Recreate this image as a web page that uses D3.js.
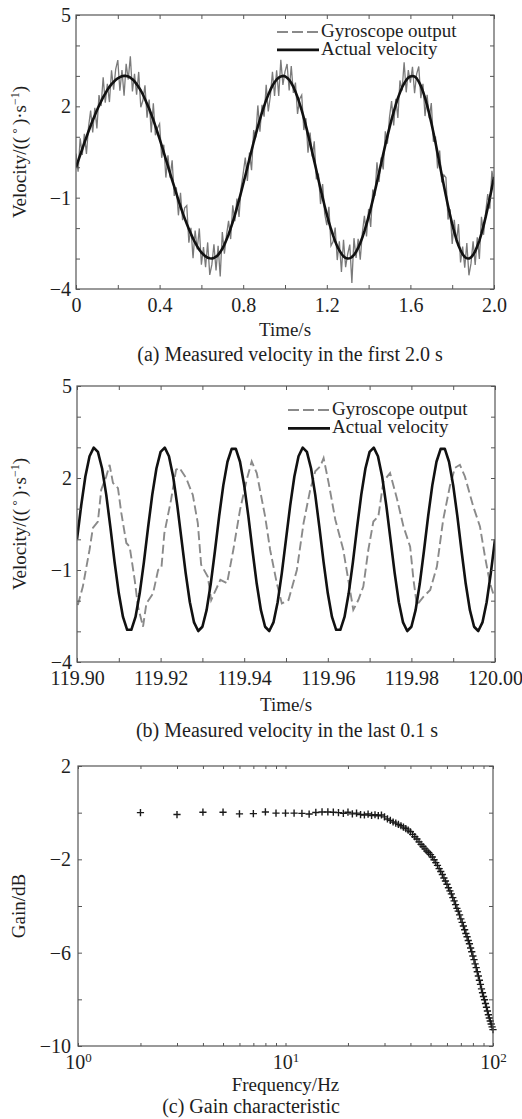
<!DOCTYPE html>
<html><head><meta charset="utf-8">
<script src="https://cdn.jsdelivr.net/npm/d3@7"></script>
<style>
body{margin:0;background:#fff}
svg{display:block}
text{font-family:"Liberation Serif","Times New Roman",serif;fill:#1e1e1e}
</style>
</head><body>
<svg id="chart" width="522" height="1119"></svg>
<script>
// ---------- DATA ----------
// Panel (a): first 2.0 s, sampled every 0.01 s
const sampleStepA = 0.01;
const actualA = [
 0.00,0.20,0.40,0.60,0.80,0.99,1.18,1.36,1.54,1.70,
 1.87,2.02,2.16,2.30,2.42,2.54,2.64,2.73,2.80,2.87,
 2.92,2.96,2.99,3.00,3.00,2.98,2.94,2.89,2.82,2.73,
 2.63,2.52,2.39,2.24,2.08,1.92,1.74,1.55,1.35,1.14,
 0.93,0.71,0.49,0.26,0.04,-0.19,-0.42,-0.64,-0.86,-1.08,
 -1.29,-1.49,-1.68,-1.86,-2.03,-2.19,-2.34,-2.48,-2.60,-2.71,
 -2.80,-2.87,-2.93,-2.97,-2.99,-3.00,-2.98,-2.94,-2.88,-2.79,
 -2.68,-2.54,-2.38,-2.21,-2.01,-1.80,-1.57,-1.33,-1.08,-0.82,
 -0.55,-0.28,0.00,0.28,0.55,0.82,1.08,1.33,1.57,1.80,
 2.01,2.21,2.38,2.54,2.68,2.79,2.88,2.94,2.98,3.00,
 2.99,2.94,2.87,2.77,2.64,2.48,2.30,2.09,1.87,1.62,
 1.36,1.08,0.79,0.50,0.20,-0.10,-0.41,-0.71,-1.00,-1.28,
 -1.55,-1.80,-2.03,-2.24,-2.43,-2.60,-2.73,-2.84,-2.93,-2.98,
 -3.00,-2.99,-2.95,-2.88,-2.78,-2.65,-2.49,-2.31,-2.10,-1.87,
 -1.62,-1.36,-1.08,-0.79,-0.49,-0.18,0.12,0.43,0.73,1.02,
 1.30,1.57,1.82,2.05,2.27,2.45,2.62,2.75,2.86,2.94,
 2.98,3.00,2.98,2.92,2.81,2.67,2.49,2.28,2.03,1.76,
 1.46,1.14,0.81,0.46,0.10,-0.25,-0.60,-0.94,-1.27,-1.58,
 -1.87,-2.13,-2.37,-2.57,-2.73,-2.86,-2.95,-2.99,-3.00,-2.96,
 -2.88,-2.76,-2.60,-2.41,-2.18,-1.92,-1.64,-1.33,-1.01,-0.67,
 -0.32];
const gyroA = [
 0.45,-0.15,0.95,0.40,1.10,0.44,1.33,1.86,1.14,1.95,
 1.27,2.37,2.01,2.95,2.12,2.74,2.14,3.18,2.55,3.22,
 3.52,2.51,3.19,2.35,3.40,2.88,3.64,2.49,3.07,2.38,
 3.13,1.97,2.19,2.69,1.63,2.22,1.14,2.10,1.05,1.29,
 1.43,0.31,0.74,-0.34,0.39,-0.34,0.23,-0.94,-0.66,-1.58,
 -0.84,-1.74,-1.33,-1.26,-2.48,-1.99,-2.99,-2.08,-2.70,-2.01,
 -3.20,-2.62,-3.28,-2.47,-3.54,-3.20,-2.53,-3.39,-2.58,-3.59,
 -2.13,-2.84,-2.23,-1.76,-2.36,-1.25,-1.77,-1.03,-1.63,-0.67,
 -0.20,0.32,-0.45,0.48,-0.10,1.22,0.98,2.03,1.17,2.05,
 1.66,2.71,1.83,2.34,3.13,2.34,3.18,2.34,3.53,2.70,
 3.14,3.39,2.52,3.32,2.44,2.78,1.75,2.24,2.37,1.22,
 1.61,0.48,1.14,0.35,0.85,-0.40,-0.21,-1.21,-0.55,-1.53,
 -1.90,-1.30,-2.58,-2.44,-1.98,-3.05,-2.43,-3.44,-2.38,-3.28,
 -2.85,-2.54,-3.80,-2.33,-2.98,-2.35,-3.04,-2.16,-1.60,-2.27,
 -1.37,-1.96,-0.73,-0.94,0.16,-0.48,0.32,-0.07,1.18,0.77,
 1.65,2.17,1.37,2.25,1.62,2.85,2.52,3.45,2.46,3.19,
 2.78,3.30,2.43,3.07,3.31,2.27,2.74,1.68,2.38,1.61,
 2.11,0.84,1.01,-0.04,0.55,-0.50,-0.25,-0.34,-1.72,-1.38,
 -2.52,-1.73,-2.47,-1.87,-3.13,-2.61,-3.30,-2.49,-3.55,-3.16,
 -2.43,-3.21,-2.30,-3.01,-1.63,-2.22,-1.49,-0.88,-1.36,-0.12,
 -0.52];

// Panel (b): last 0.1 s, actual sampled every 1 ms from 119.90 s
const startB = 119.90;
const sampleStepB = 0.001;
const actualB = [
 0.00,1.10,2.05,2.71,2.99,2.85,2.31,1.45,0.38,-0.75,-1.76,-2.53,-2.95,-2.95,-2.53,-1.76,-0.75,
 0.38,1.45,2.31,2.85,2.99,2.71,2.05,1.10,0.00,-1.10,-2.05,-2.71,-2.99,-2.85,-2.31,-1.45,-0.38,
 0.75,1.76,2.53,2.95,2.95,2.53,1.76,0.75,-0.38,-1.45,-2.31,-2.85,-2.99,-2.71,-2.05,-1.10,0.00,
 1.10,2.05,2.71,2.99,2.85,2.31,1.45,0.38,-0.75,-1.76,-2.53,-2.95,-2.95,-2.53,-1.76,-0.75,
 0.38,1.45,2.31,2.85,2.99,2.71,2.05,1.10,0.00,-1.10,-2.05,-2.71,-2.99,-2.85,-2.31,-1.45,-0.38,
 0.75,1.76,2.53,2.95,2.95,2.53,1.76,0.75,-0.38,-1.45,-2.31,-2.85,-2.99,-2.71,-2.05,-1.10,0.00];
// gyroscope output traced points: time offset (ms after 119.90 s) and value
const gyroBms = [0.2,1.4,3.0,3.8,5.0,5.8,7.0,7.8,8.6,9.8,10.6,11.8,12.6,13.8,14.6,15.8,16.6,18.2,19.4,20.2,
 20.9,22.5,23.7,24.5,26.1,27.7,28.9,29.7,31.3,32.1,34.3,35.9,37.4,39.0,40.6,41.8,43.0,45.0,46.2,47.8,
 49.0,50.6,52.6,54.2,55.8,57.0,58.2,59.0,60.2,61.8,63.7,64.9,66.1,67.3,68.5,69.7,70.9,72.1,73.3,74.9,
 76.5,78.1,79.7,80.5,81.3,82.9,84.5,86.1,87.6,89.2,90.4,91.6,92.8,94.8,96.4,97.6,98.8,99.8];
const gyroBValues = [-2.14,-1.54,-0.34,0.37,0.58,1.62,2.05,2.43,1.84,1.67,0.86,-0.12,-0.24,-1.32,-2.20,-2.85,-2.09,-1.76,-1.00,-0.93,
 0.20,1.29,2.27,2.33,2.00,1.45,0.53,-0.83,-1.22,-1.98,-1.32,-1.43,-0.34,0.96,1.94,2.54,2.16,0.75,-0.34,-1.43,
 -2.09,-1.98,-1.00,0.53,1.62,2.22,2.38,2.65,1.84,0.64,-0.34,-1.32,-2.30,-1.98,-1.54,-0.34,0.58,0.75,1.89,2.16,
 1.35,0.42,-0.24,-1.32,-2.14,-1.87,-1.65,-0.89,0.64,1.73,2.33,2.43,2.05,1.07,0.42,-0.56,-1.43,-1.87];

// Panel (c): gain characteristic
const freqC = [2,3,4,5,6,7,8,9,10,11,12,13,14,15,16,17,18,19,20,21,22,23,24,25,26,27,28,29,30,
 31,32,33,34,35,36,37,38,39,40,41,42,43,44,45,46,47,48,49,50,51,52,53,54,55,56,57,58,59,60,
 61,62,63,64,65,66,67,68,69,70,71,72,73,74,75,76,77,78,79,80,81,82,83,84,85,86,87,88,89,90,
 91,92,93,94,95,96,97,98,99,100];
const gainC = [0.00,-0.08,0.02,0.02,-0.05,-0.04,0.03,-0.02,-0.02,
 -0.02,-0.03,-0.06,0.01,0.03,0.03,0.02,0.00,-0.03,0.02,
 -0.05,-0.02,-0.08,-0.10,-0.06,-0.12,-0.09,-0.13,-0.10,-0.18,
 -0.27,-0.33,-0.40,-0.45,-0.50,-0.56,-0.62,-0.68,-0.75,-0.82,
 -0.93,-1.03,-1.13,-1.25,-1.36,-1.45,-1.55,-1.64,-1.72,-1.80,
 -1.90,-2.02,-2.14,-2.26,-2.40,-2.52,-2.65,-2.80,-2.93,-3.07,
 -3.22,-3.35,-3.48,-3.64,-3.78,-3.94,-4.10,-4.22,-4.38,-4.55,
 -4.70,-4.86,-5.02,-5.18,-5.32,-5.48,-5.62,-5.80,-5.96,-6.14,
 -6.30,-6.48,-6.64,-6.82,-7.00,-7.18,-7.36,-7.55,-7.72,-7.88,
 -8.02,-8.18,-8.34,-8.50,-8.66,-8.80,-8.93,-9.06,-9.18,-9.30];

// Ticks and labels
const xTicksA = [0,0.2,0.4,0.6,0.8,1.0,1.2,1.4,1.6,1.8,2.0];
const xLabelsA = ["0","","0.4","","0.8","","1.2","","1.6","","2.0"];
const yTicksAB = [5,4,3,2,1,0,-1,-2,-3,-4];
const yLabelsAB = ["5","","","2","","","\u22121","","","\u22124"];
const xTicksB = [119.90,119.91,119.92,119.93,119.94,119.95,119.96,119.97,119.98,119.99,120.00];
const xLabelsB = ["119.90","","119.92","","119.94","","119.96","","119.98","","120.00"];
const xTicksC = [1,2,3,4,5,6,7,8,9,10,20,30,40,50,60,70,80,90,100];
const xLabelsC = ["0","","","","","","","","","1","","","","","","","","","2"];
const yTicksC = [2,0,-2,-4,-6,-8,-10];
const yLabelsC = ["2","","\u22122","","\u22126","","\u221210"];
const legendNames = ["Gyroscope output","Actual velocity"];
const captions = ["(a) Measured velocity in the first 2.0 s","(b) Measured velocity in the last 0.1 s","(c) Gain characteristic"];

// ---------- DRAWING ----------
const svg = d3.select("#chart");
const FONT = 19, TICKFONT = 20, CAPFONT = 20;
const AX = "#555";

function setupAxes(g, x, y, box, cfg) {
  const {L,R,T,B} = box;
  const tk = 4;
  const style = sel => {
    sel.select(".domain").remove();
    sel.selectAll(".tick line").attr("stroke", AX).attr("stroke-width", 1);
    sel.attr("font-family", null).attr("font-size", TICKFONT);
    sel.selectAll("text").attr("fill", "#1e1e1e");
  };
  g.append("g").attr("transform", `translate(0,${B})`)
    .call(d3.axisBottom(x).tickValues(cfg.xTicks).tickSize(-(cfg.xTickLen||tk)).tickPadding(cfg.xPad)
      .tickFormat((d,i)=>cfg.xLabels[i])).call(style).call(cfg.xPost || (()=>{}));
  g.append("g").attr("transform", `translate(0,${T})`)
    .call(d3.axisTop(x).tickValues(cfg.xTicks).tickSize(-(cfg.xTickLen||tk)).tickFormat(()=>"")).call(style);
  g.append("g").attr("transform", `translate(${L},0)`)
    .call(d3.axisLeft(y).tickValues(cfg.yTicks).tickSize(-tk).tickPadding(cfg.yPad)
      .tickFormat((d,i)=>cfg.yLabels[i])).call(style);
  g.append("g").attr("transform", `translate(${R},0)`)
    .call(d3.axisRight(y).tickValues(cfg.yTicks).tickSize(-tk).tickFormat(()=>"")).call(style);
  g.append("rect").attr("x", L).attr("y", T).attr("width", R-L).attr("height", B-T)
    .attr("fill","none").attr("stroke", AX).attr("stroke-width", 1.2);
}

function velocityLabel(g, cx, cy) {
  const t = g.append("text").attr("transform", `translate(${cx},${cy}) rotate(-90)`)
    .attr("text-anchor","middle").attr("dy","0.33em").attr("font-size", FONT);
  t.append("tspan").text("Velocity/((");
  t.append("tspan").attr("font-size", 13).attr("dy", -5).text(" \u00B0 ");
  t.append("tspan").attr("dy", 5).text(")\u00B7s");
  t.append("tspan").attr("font-size", 12).attr("dy", -7).text("\u22121");
  t.append("tspan").attr("dy", 7).text(")");
}

function legend(g, x0, y0, gap) {
  const rows = [{dash:"11,4", w:1.9, c:"#8a8a8a"}, {dash:null, w:2.7, c:"#111"}];
  rows.forEach((r,i) => {
    const yy = y0 + i*gap;
    g.append("line").attr("x1", x0).attr("x2", x0+42).attr("y1", yy).attr("y2", yy)
      .attr("stroke", r.c).attr("stroke-width", r.w).attr("stroke-dasharray", r.dash);
    g.append("text").attr("x", x0+44).attr("y", yy+5).attr("font-size", FONT).text(legendNames[i]);
  });
}

function clip(id, box) {
  svg.append("clipPath").attr("id", id).append("rect")
    .attr("x", box.L).attr("y", box.T).attr("width", box.R-box.L).attr("height", box.B-box.T);
}

// ---- Panel (a)
{
  const box = {L:76, R:494, T:15, B:289};
  const g = svg.append("g");
  const x = d3.scaleLinear().domain([0,2]).range([box.L, box.R]);
  const y = d3.scaleLinear().domain([-4,5]).range([box.B, box.T]);
  clip("clipA", box);
  const lineA = d3.line().x((d,i)=>x(i*sampleStepA)).y(d=>y(d));
  g.append("path").datum(gyroA).attr("clip-path","url(#clipA)").attr("d", lineA)
    .attr("fill","none").attr("stroke","#7a7a7a").attr("stroke-width",1.3);
  g.append("path").datum(actualA).attr("clip-path","url(#clipA)").attr("d", lineA)
    .attr("fill","none").attr("stroke","#111").attr("stroke-width",2.6).attr("stroke-linejoin","round");
  setupAxes(g, x, y, box, {xTicks:xTicksA, xLabels:xLabelsA, yTicks:yTicksAB, yLabels:yLabelsAB, xPad:9, yPad:5});
  legend(g, 277, 32, 17.8);
  velocityLabel(g, 20, (box.T+box.B)/2);
  g.append("text").attr("x",(box.L+box.R)/2).attr("y",336).attr("text-anchor","middle").attr("font-size",FONT).text("Time/s");
  g.append("text").attr("x",290).attr("y",361).attr("text-anchor","middle").attr("font-size",CAPFONT).text(captions[0]);
}

// ---- Panel (b)
{
  const box = {L:77, R:495, T:386, B:662};
  const g = svg.append("g");
  const x = d3.scaleLinear().domain([119.90,120.00]).range([box.L, box.R]);
  const y = d3.scaleLinear().domain([-4,5]).range([box.B, box.T]);
  clip("clipB", box);
  g.append("path").datum(gyroBValues).attr("clip-path","url(#clipB)")
    .attr("d", d3.line().x((d,i)=>x(startB + gyroBms[i]/1000)).y(d=>y(d)))
    .attr("fill","none").attr("stroke","#8a8a8a").attr("stroke-width",1.9).attr("stroke-dasharray","9,4");
  g.append("path").datum(actualB).attr("clip-path","url(#clipB)")
    .attr("d", d3.line().x((d,i)=>x(startB + i*sampleStepB)).y(d=>y(d)))
    .attr("fill","none").attr("stroke","#111").attr("stroke-width",2.6).attr("stroke-linejoin","round");
  setupAxes(g, x, y, box, {xTicks:xTicksB, xLabels:xLabelsB, yTicks:yTicksAB, yLabels:yLabelsAB, xPad:9, yPad:5});
  legend(g, 288, 410, 18.3);
  velocityLabel(g, 20, (box.T+box.B)/2);
  g.append("text").attr("x",(box.L+box.R)/2).attr("y",711).attr("text-anchor","middle").attr("font-size",FONT).text("Time/s");
  g.append("text").attr("x",287).attr("y",737).attr("text-anchor","middle").attr("font-size",CAPFONT).text(captions[1]);
}

// ---- Panel (c)
{
  const box = {L:78, R:493, T:766, B:1046};
  const g = svg.append("g");
  const x = d3.scaleLog().domain([1,100]).range([box.L, box.R]);
  const y = d3.scaleLinear().domain([-10,2]).range([box.B, box.T]);
  clip("clipC", box);
  g.append("g").selectAll("path").data(gainC).join("path")
    .attr("transform",(d,i)=>`translate(${x(freqC[i])},${y(d)})`)
    .attr("d","M-3.6,0H3.6M0,-3.6V3.6").attr("stroke","#1a1a1a").attr("stroke-width",1.4).attr("fill","none");
  const supPost = sel => {
    sel.selectAll(".tick text").each(function(d,i){
      const lab = xLabelsC[i];
      const t = d3.select(this); t.text(null);
      if (lab) {
        t.append("tspan").text("10");
        t.append("tspan").attr("font-size",13).attr("dy",-7).text(lab);
      }
    });
  };
  setupAxes(g, x, y, box, {xTicks:xTicksC, xLabels:xLabelsC, yTicks:yTicksC, yLabels:yLabelsC, xPad:9, yPad:7, xTickLen:3, xPost:supPost});
  g.append("text").attr("transform",`translate(19,${(box.T+box.B)/2}) rotate(-90)`).attr("text-anchor","middle")
    .attr("dy","0.33em").attr("font-size",FONT).text("Gain/dB");
  g.append("text").attr("x",(box.L+box.R)/2).attr("y",1091).attr("text-anchor","middle").attr("font-size",FONT).text("Frequency/Hz");
  g.append("text").attr("x",251).attr("y",1113).attr("text-anchor","middle").attr("font-size",CAPFONT).text(captions[2]);
}
</script>
</body></html>
